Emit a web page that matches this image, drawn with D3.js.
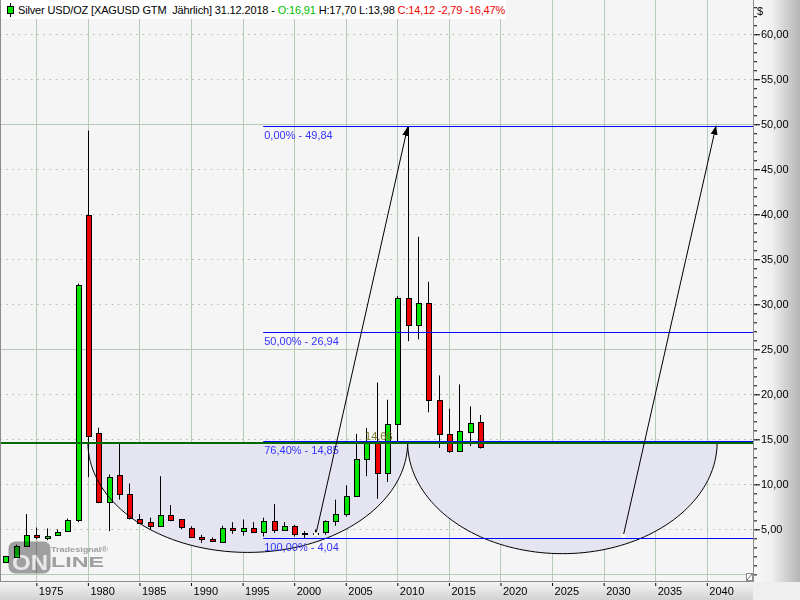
<!DOCTYPE html>
<html>
<head>
<meta charset="utf-8">
<script src="https://cdn.jsdelivr.net/npm/d3@7"></script>
<style>
  body { margin: 0; background: #fff; }
  svg text { font-family: "Liberation Sans", Arial, sans-serif; }
</style>
</head>
<body>
<div id="chart"></div>
<script>
// Yearly candles, silver in USD/oz
const years = [1972, 1973, 1974, 1975, 1976, 1977, 1978, 1979, 1980, 1981,
  1982, 1983, 1984, 1985, 1986, 1987, 1988, 1989, 1990, 1991,
  1992, 1993, 1994, 1995, 1996, 1997, 1998, 1999, 2000, 2001,
  2002, 2003, 2004, 2005, 2006, 2007, 2008, 2009, 2010, 2011,
  2012, 2013, 2014, 2015, 2016, 2017, 2018];
const open = [1.32, 2.0, 3.2, 4.4, 4.1, 4.37, 4.8, 6.0, 39.9, 15.7,
  8.0, 11.0, 8.9, 6.2, 5.8, 5.4, 6.6, 6.1, 5.2, 4.15,
  3.9, 3.6, 5.1, 4.85, 5.2, 4.7, 5.95, 5.0, 5.4, 4.55,
  4.6, 4.7, 5.95, 6.75, 8.7, 12.86, 14.63, 11.3, 16.74, 30.74,
  27.75, 30.2, 19.4, 15.63, 13.7, 15.89, 16.91];
const high = [2.05, 3.3, 6.7, 5.2, 5.1, 5.0, 6.2, 32.3, 49.3, 16.3,
  11.1, 14.6, 10.1, 6.7, 6.3, 10.9, 7.7, 6.15, 5.35, 4.4,
  4.1, 5.4, 5.8, 6.1, 5.8, 6.3, 7.8, 5.8, 5.5, 4.8,
  5.0, 6.0, 8.3, 9.9, 15.6, 16.26, 21.3, 19.4, 30.9, 49.7,
  37.5, 32.5, 22.1, 18.4, 21.1, 18.67, 17.70];
const low = [1.3, 1.95, 3.1, 3.9, 3.8, 4.3, 4.75, 5.8, 10.8, 7.9,
  4.8, 8.3, 6.1, 5.7, 5.0, 5.3, 5.9, 5.0, 4.05, 3.5,
  3.6, 3.55, 4.5, 4.3, 4.7, 4.2, 4.6, 4.9, 4.2, 4.05,
  4.2, 4.4, 5.4, 6.4, 8.6, 10.9, 8.4, 10.26, 14.52, 25.9,
  26.1, 18.0, 14.03, 13.5, 13.7, 14.26, 13.98];
const close = [2.0, 3.2, 4.4, 4.2, 4.3, 4.74, 6.0, 32.1, 15.4, 8.0,
  10.8, 8.85, 6.2, 5.8, 5.4, 6.6, 6.1, 5.2, 4.2, 3.9,
  3.65, 5.1, 4.85, 5.2, 4.8, 5.95, 5.0, 5.4, 4.55, 4.6,
  4.65, 5.9, 6.75, 8.7, 12.86, 14.63, 11.3, 16.74, 30.74, 27.75,
  30.2, 19.4, 15.6, 13.7, 15.89, 16.86, 14.12];

// Axis ticks
const xTickYears = [1975, 1980, 1985, 1990, 1995, 2000, 2005, 2010, 2015, 2020, 2025, 2030, 2035, 2040];
const yTickValues = [5, 10, 15, 20, 25, 30, 35, 40, 45, 50, 55, 60];
const ySolidGrid = [0, 25, 50];

// Fibonacci retracement 2001 low -> 2011 high
const fibLow = 4.04, fibHigh = 49.84, fibStartYear = 1997;
const fibRatios = [0, 0.5, 0.764, 1];

// Support line and the two bowls hanging from it
const supportLevel = 14.66, supportLabelYear = 2006.87;
const arcStarts = [1980, 2011], arcEnds = [2011, 2041], arcBottoms = [2.44, 2.3];

// Arrows (from year/price, to year/price)
const arrowFromYear = [2002.1, 2031.9], arrowFromPrice = [4.44, 4.26];
const arrowToYear = [2011.0, 2040.9], arrowToPrice = [49.7, 49.84];

const W = 800, H = 600;
const plotR = 753, plotB = 581;

const de = d3.formatLocale({ decimal: ",", thousands: ".", grouping: [3], currency: ["", "$"] });
const fmt = de.format(".2f");

const x = d3.scaleLinear().domain([1975, 2040]).range([36.3, 706.8]);
const y = d3.scaleLinear().domain([4.04, 49.84]).range([538, 125.7]);
const py = v => Math.round(y(v)) + 0.5;

const svg = d3.select("#chart").append("svg")
    .attr("width", W)
    .attr("height", H);

const defs = svg.append("defs");
const gAx = defs.append("linearGradient").attr("id", "axR").attr("x1", 0).attr("x2", 1).attr("y1", 0).attr("y2", 0);
gAx.append("stop").attr("offset", "0%").attr("stop-color", "#f8f8f8");
gAx.append("stop").attr("offset", "40%").attr("stop-color", "#f0f0f0");
gAx.append("stop").attr("offset", "100%").attr("stop-color", "#b4b4b4");
const gAb = defs.append("linearGradient").attr("id", "axB").attr("x1", 0).attr("x2", 0).attr("y1", 0).attr("y2", 1);
gAb.append("stop").attr("offset", "0%").attr("stop-color", "#f6f6f6");
gAb.append("stop").attr("offset", "100%").attr("stop-color", "#d2d2d2");
defs.append("clipPath").attr("id", "plotClip")
  .append("rect").attr("x", 0).attr("y", 0).attr("width", plotR).attr("height", plotB);
defs.append("marker")
    .attr("id", "arrow")
    .attr("markerUnits", "userSpaceOnUse")
    .attr("markerWidth", 10).attr("markerHeight", 8)
    .attr("refX", 9).attr("refY", 4)
    .attr("orient", "auto")
  .append("path")
    .attr("d", "M0,0.5 L9,4 L0,7.5 Z")
    .attr("fill", "#000");

// Backgrounds
svg.append("rect").attr("width", W).attr("height", H).attr("fill", "#efefef");
svg.append("rect").attr("width", plotR).attr("height", plotB).attr("fill", "#f5f5f5");
svg.append("rect").attr("x", plotR).attr("y", 0).attr("width", W - plotR).attr("height", plotB + 1).attr("fill", "url(#axR)");
svg.append("rect").attr("x", 0).attr("y", plotB).attr("width", plotR).attr("height", H - plotB).attr("fill", "url(#axB)");

const plot = svg.append("g").attr("clip-path", "url(#plotClip)");

// Grid
plot.append("g").selectAll("line").data(xTickYears).join("line")
    .attr("x1", d => Math.round(x(d)) + 0.5).attr("x2", d => Math.round(x(d)) + 0.5)
    .attr("y1", 0).attr("y2", plotB)
    .attr("stroke", "#b6cab6");
plot.append("g").selectAll("line").data(yTickValues.filter(v => !ySolidGrid.includes(v))).join("line")
    .attr("x1", 0).attr("x2", plotR)
    .attr("y1", py).attr("y2", py)
    .attr("stroke", "#a9bda9")
    .attr("stroke-dasharray", "1.5,4.7");
plot.append("g").selectAll("line").data(ySolidGrid).join("line")
    .attr("x1", 0).attr("x2", plotR)
    .attr("y1", py).attr("y2", py)
    .attr("stroke", "#b6cab6");

// Bowls under the support line
const arcs = arcStarts.map((s, i) => ({ s: s, e: arcEnds[i], b: arcBottoms[i] }));
const arcPts = a => d3.range(0, 181, 2).map(deg => {
  const t = deg * Math.PI / 180;
  return [(a.s + a.e) / 2 - (a.e - a.s) / 2 * Math.cos(t), supportLevel - (supportLevel - a.b) * Math.sin(t)];
});
const arcLine = d3.line().x(d => x(d[0])).y(d => y(d[1]));
plot.append("g").selectAll("path").data(arcs).join("path")
    .attr("d", a => arcLine(arcPts(a)) + "Z")
    .attr("fill", "#e5e5f2");

// Candles
const candles = years.map((yr, i) => ({ year: yr, o: open[i], h: high[i], l: low[i], c: close[i] }));
const cg = plot.append("g");
cg.selectAll("line").data(candles).join("line")
    .attr("x1", d => Math.round(x(d.year)) + 0.5).attr("x2", d => Math.round(x(d.year)) + 0.5)
    .attr("y1", d => y(d.h)).attr("y2", d => y(d.l))
    .attr("stroke", "#000");
cg.selectAll("rect").data(candles).join("rect")
    .attr("x", d => Math.round(x(d.year)) - 1.5)
    .attr("y", d => py(Math.max(d.o, d.c)))
    .attr("width", 5)
    .attr("height", d => Math.max(1, Math.round(Math.abs(y(d.o) - y(d.c)))))
    .attr("fill", d => d.c >= d.o ? "#00e600" : "#f00000")
    .attr("stroke", "#000");

// Bowl outlines
plot.append("g").selectAll("path").data(arcs).join("path")
    .attr("d", a => arcLine(arcPts(a)))
    .attr("fill", "none")
    .attr("stroke", "#000");

// Fibonacci levels
const fibs = fibRatios.map(r => ({ r: r, v: fibHigh - r * (fibHigh - fibLow) }));
plot.append("g").selectAll("line").data(fibs).join("line")
    .attr("x1", x(fibStartYear)).attr("x2", plotR)
    .attr("y1", d => py(d.v)).attr("y2", d => py(d.v))
    .attr("stroke", "#0000ff");
plot.append("g").selectAll("text").data(fibs).join("text")
    .attr("x", x(fibStartYear) + 1)
    .attr("y", d => y(d.v) + 13)
    .attr("font-size", "11px")
    .attr("fill", "#3434ff")
    .text(d => fmt(d.r * 100) + "% - " + fmt(d.v));

// Support line
plot.append("line")
    .attr("x1", 0).attr("x2", plotR)
    .attr("y1", Math.round(y(supportLevel)) + 1).attr("y2", Math.round(y(supportLevel)) + 1)
    .attr("stroke", "#006a00")
    .attr("stroke-width", 2);
plot.append("text")
    .attr("x", x(supportLabelYear)).attr("y", y(supportLevel) - 2.5)
    .attr("font-size", "11px")
    .attr("fill", "#7a7a2a")
    .text(fmt(supportLevel));

// Arrows
const arrows = arrowFromYear.map((fy, i) => ({ fx: fy, fy: arrowFromPrice[i], tx: arrowToYear[i], ty: arrowToPrice[i] }));
plot.append("g").selectAll("line").data(arrows).join("line")
    .attr("x1", d => x(d.fx)).attr("y1", d => y(d.fy))
    .attr("x2", d => x(d.tx)).attr("y2", d => y(d.ty))
    .attr("stroke", "#000")
    .attr("marker-end", "url(#arrow)");
plot.append("g").selectAll("rect").data(arrows).join("rect")
    .attr("x", d => x(d.fx) - 2).attr("y", d => y(d.fy) - 2)
    .attr("width", 4).attr("height", 4)
    .attr("fill", "#fffff0");

// Watermark logo
const logo = svg.append("g").style("mix-blend-mode", "multiply");
logo.append("rect")
    .attr("x", 8.5).attr("y", 541.5).attr("width", 42).attr("height", 32).attr("rx", 7)
    .attr("fill", "#a6a6a6");
logo.append("text")
    .attr("x", 12).attr("y", 570)
    .attr("font-size", "22px").attr("font-weight", "bold")
    .attr("textLength", 36).attr("lengthAdjust", "spacingAndGlyphs")
    .attr("fill", "#f2f2f2")
    .text("ON");
logo.append("text")
    .attr("x", 51).attr("y", 567)
    .attr("font-size", "14px").attr("font-weight", "bold")
    .attr("textLength", 53).attr("lengthAdjust", "spacingAndGlyphs")
    .attr("fill", "#a6a6a6")
    .text("LINE");
logo.append("text")
    .attr("x", 51).attr("y", 552)
    .attr("font-size", "8px").attr("font-weight", "bold")
    .attr("textLength", 57).attr("lengthAdjust", "spacingAndGlyphs")
    .attr("fill", "#a6a6a6")
    .text("Tradesignal®");

// Header
svg.append("rect").attr("x", 0).attr("y", 0).attr("width", 506).attr("height", 19).attr("fill", "#ffffff");
svg.append("line").attr("x1", 10.5).attr("x2", 10.5).attr("y1", 3).attr("y2", 17).attr("stroke", "#000");
svg.append("rect").attr("x", 7.5).attr("y", 6.5).attr("width", 6).attr("height", 7)
    .attr("fill", "#00e600").attr("stroke", "#000");
const head = svg.append("text")
    .attr("x", 18).attr("y", 14)
    .attr("font-size", "11px")
    .attr("letter-spacing", "-0.15px")
    .style("white-space", "pre");
head.append("tspan").attr("fill", "#000").text("Silver USD/OZ [XAGUSD GTM  Jährlich] 31.12.2018 - ");
head.append("tspan").attr("fill", "#00c000").text("O:" + fmt(open[open.length - 1]));
head.append("tspan").attr("fill", "#000").text(" H:" + fmt(high[high.length - 1]) + " L:" + fmt(low[low.length - 1]) + " ");
head.append("tspan").attr("fill", "#f00000").text("C:" + fmt(close[close.length - 1]) + " -2,79 -16,47%");

// Frame
svg.append("line").attr("x1", plotR + 0.5).attr("x2", plotR + 0.5).attr("y1", 0).attr("y2", plotB + 1).attr("stroke", "#8c8c8c");
svg.append("line").attr("x1", 0).attr("x2", plotR + 1).attr("y1", plotB + 0.5).attr("y2", plotB + 0.5).attr("stroke", "#8c8c8c");
svg.append("line").attr("x1", 0.5).attr("x2", 0.5).attr("y1", 0).attr("y2", plotB).attr("stroke", "#8c8c8c");

// Resize grip
svg.append("rect").attr("x", 746.5).attr("y", 573.5).attr("width", 6).attr("height", 7)
    .attr("fill", "#fff").attr("stroke", "#909090");
svg.append("line").attr("x1", 747).attr("y1", 580).attr("x2", 752).attr("y2", 574).attr("stroke", "#606060");

// Right price axis
const minorTicks = d3.range(0, 64, 1);
svg.append("g")
    .attr("transform", `translate(${plotR + 1},0)`)
    .call(d3.axisRight(y).tickValues(minorTicks).tickSize(3).tickFormat(""))
    .call(g => g.select(".domain").remove())
    .call(g => g.selectAll("line").attr("stroke", "#000"));
svg.append("g")
    .attr("transform", `translate(${plotR + 3},0)`)
    .call(d3.axisRight(y).tickValues(yTickValues).tickSize(4).tickPadding(1).tickFormat(fmt))
    .call(g => g.select(".domain").remove())
    .call(g => g.selectAll("line").attr("stroke", "#000"))
    .call(g => g.selectAll("text").attr("font-size", "11px").attr("fill", "#000")
      .attr("font-family", "'Liberation Sans', Arial, sans-serif"));
svg.append("text")
    .attr("x", 757).attr("y", 15)
    .attr("font-size", "11px")
    .text("$");

// Year axis
svg.append("g")
    .attr("transform", `translate(0,${plotB + 2})`)
    .call(d3.axisBottom(x).tickValues(xTickYears).tickSize(3).tickFormat(d3.format("d")))
    .call(g => g.select(".domain").remove())
    .call(g => g.selectAll("line").attr("stroke", "#000"))
    .call(g => g.selectAll("text")
      .attr("font-size", "11px").attr("fill", "#000")
      .attr("font-family", "'Liberation Sans', Arial, sans-serif")
      .attr("text-anchor", "start")
      .attr("x", 2).attr("y", 4).attr("dy", "0.71em"));
</script>
</body>
</html>
